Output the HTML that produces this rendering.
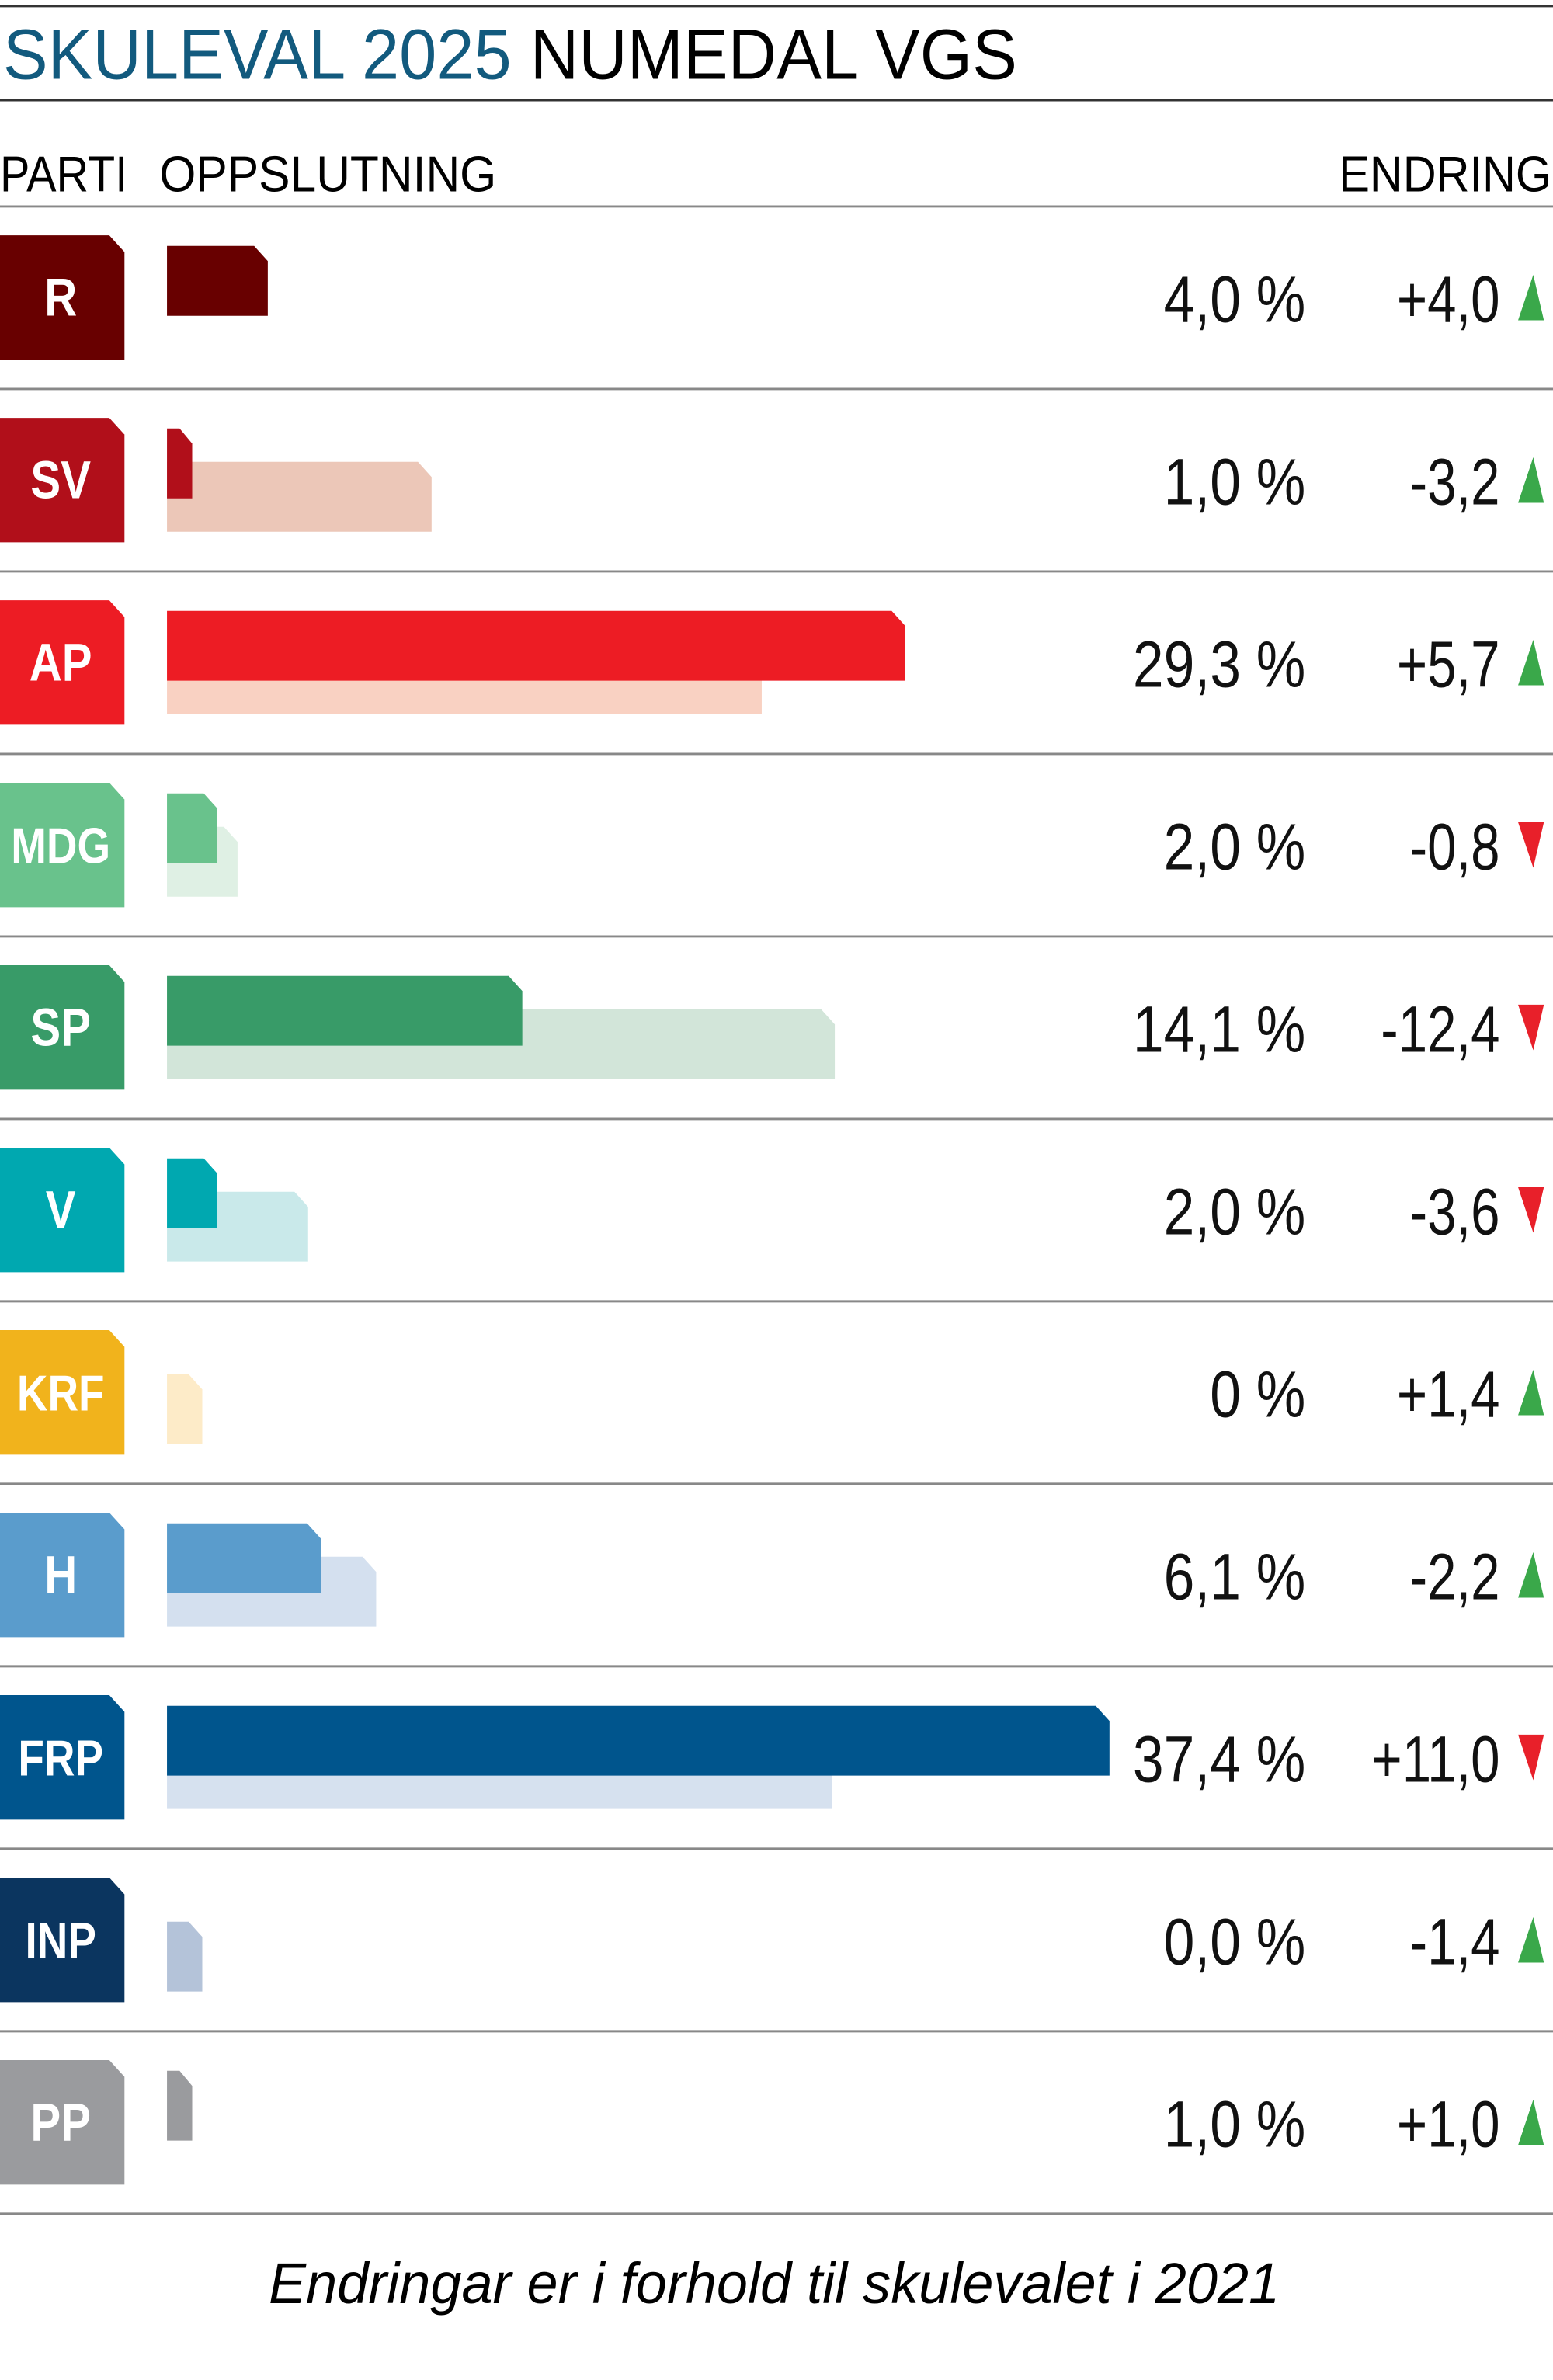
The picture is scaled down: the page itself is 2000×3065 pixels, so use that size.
<!DOCTYPE html>
<html><head><meta charset="utf-8"><style>
html,body{margin:0;padding:0;background:#fff;}
svg{display:block;}
text{font-family:"Liberation Sans Narrow","Liberation Sans",sans-serif;}
</style></head><body>
<svg id="chart" width="2000" height="3065" viewBox="0 0 1023 1567.7" xmlns="http://www.w3.org/2000/svg">
<line x1="0" y1="4" x2="1023" y2="4" stroke="#333" stroke-width="1.5"/>
<text x="2" y="52" font-size="47" textLength="668" lengthAdjust="spacingAndGlyphs"><tspan fill="#125a7e">SKULEVAL 2025</tspan><tspan fill="#000"> NUMEDAL VGS</tspan></text>
<line x1="0" y1="66" x2="1023" y2="66" stroke="#333" stroke-width="1.5"/>
<text x="0" y="126" font-size="33" textLength="84" lengthAdjust="spacingAndGlyphs">PARTI</text>
<text x="105" y="126" font-size="33" textLength="222" lengthAdjust="spacingAndGlyphs">OPPSLUTNING</text>
<text x="1022" y="126" font-size="33" text-anchor="end" textLength="140" lengthAdjust="spacingAndGlyphs">ENDRING</text>
<line x1="0" y1="136" x2="1023" y2="136" stroke="#888" stroke-width="1.5"/>
<g id="rows"></g>
<text x="510" y="1517" font-size="38" font-style="italic" text-anchor="middle" textLength="666" lengthAdjust="spacingAndGlyphs">Endringar er i forhold til skulevalet i 2021</text>
</svg>
<script>
const parties = ["R","SV","AP","MDG","SP","V","KRF","H","FRP","INP","PP"];
const current = [4.0,1.0,29.3,2.0,14.1,2.0,0,6.1,37.4,0.0,1.0];
const previous = [0,10.5,23.6,2.8,26.5,5.6,1.4,8.3,26.4,1.4,0];
const valueLabels = ["4,0 %","1,0 %","29,3 %","2,0 %","14,1 %","2,0 %","0 %","6,1 %","37,4 %","0,0 %","1,0 %"];
const changeLabels = ["+4,0","-3,2","+5,7","-0,8","-12,4","-3,6","+1,4","-2,2","+11,0","-1,4","+1,0"];
const arrowUp = [true,true,true,false,false,false,true,true,false,true,true];
const colors = ["#680000","#b10f1a","#ed1c24","#69c28c","#389b68","#00a8b0","#f1b31c","#5a9ccc","#00558d","#0b355f","#9a9b9e"];
const prevColors = ["#eee","#ecc7b8","#f9d1c2","#dff0e4","#d2e5d9","#c9e9ea","#fdebc8","#d4e0ef","#d6e1ef","#b4c3d9","#ddd"];

const NS="http://www.w3.org/2000/svg";
const g=document.getElementById('rows');
const x0=110, pxPer=16.6, top0=136, rowH=120.2;
function xs(v){return x0+v*pxPer;}
function barPath(x1,y,h){
  const w=x1-x0; const c=Math.min(9,w*0.5);
  return `M${x0},${y} L${x1-c},${y} L${x1},${y+10} L${x1},${y+h} L${x0},${y+h} Z`;
}
function mk(tag,attrs){const e=document.createElementNS(NS,tag);for(const k in attrs)e.setAttribute(k,attrs[k]);return e;}
function narrowText(x,y,sx,attrs,str){
  const w=mk('g',{transform:`translate(${x},${y}) scale(${sx},1)`});
  const t=mk('text',Object.assign({x:0,y:0},attrs));
  t.textContent=str;
  w.appendChild(t);
  return [w,t];
}
parties.forEach((p,i)=>{
  const t=top0+i*rowH;
  const badge=mk('path',{d:`M0,${t+19} L72,${t+19} L82,${t+30} L82,${t+101} L0,${t+101} Z`,fill:colors[i]});
  
  
  g.appendChild(badge);
  const [bw,bl]=narrowText(40,t+72,0.85,{'font-size':p.length>2?33:35,'font-weight':'bold',fill:'#fff','text-anchor':'middle'},p);
  
  
  g.appendChild(bw);
  if(previous[i]>0){
    const pb=mk('path',{d:barPath(xs(previous[i]),t+48,46),fill:prevColors[i]});
    
    
    g.appendChild(pb);
  }
  if(current[i]>0){
    const cb=mk('path',{d:barPath(xs(current[i]),t+26,46),fill:colors[i]});
    
    
    g.appendChild(cb);
  }
  const [vw,vl]=narrowText(860,t+76,0.85,{'font-size':43,fill:'#111','text-anchor':'end'},valueLabels[i]);
  
  
  g.appendChild(vw);
  const [cw,cl]=narrowText(988,t+76,0.8,{'font-size':43,fill:'#111','text-anchor':'end'},changeLabels[i]);
  
  
  g.appendChild(cw);
  const ty=t+45, th=30;
  const tri=arrowUp[i]?mk('polygon',{points:`1000,${ty+th} 1017,${ty+th} 1010,${ty}`,fill:'#3aa84a'}):mk('polygon',{points:`1000,${ty} 1017,${ty} 1010,${ty+th}`,fill:'#e8202a'});
  
  
  g.appendChild(tri);
  const sep=mk('line',{x1:0,y1:t+rowH,x2:1023,y2:t+rowH,stroke:'#888','stroke-width':1.5});
  
  
  g.appendChild(sep);
});
</script>
</body></html>
